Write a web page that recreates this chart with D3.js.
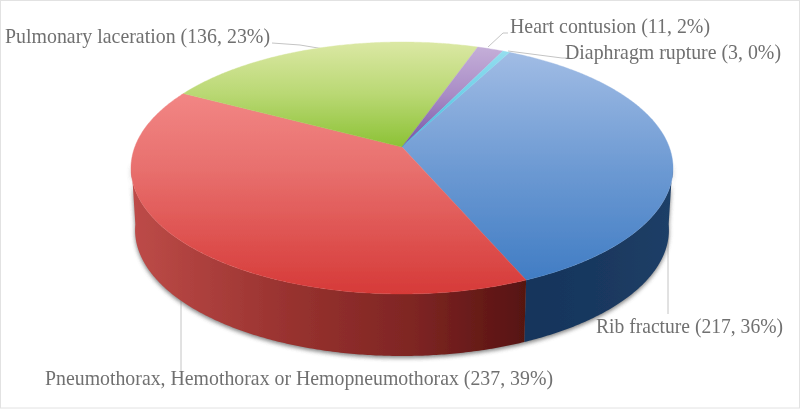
<!DOCTYPE html>
<html>
<head>
<meta charset="utf-8">
<script src="https://cdn.jsdelivr.net/npm/d3@7"></script>
<style>
html, body { margin: 0; padding: 0; background: #fff; }
svg { display: block; }
</style>
</head>
<body>
<script>
// data, clockwise starting from the rib fracture slice
const categories = ["Rib fracture", "Pneumothorax, Hemothorax or Hemopneumothorax", "Pulmonary laceration", "Heart contusion", "Diaphragm rupture"];
const counts = [217, 237, 136, 11, 3];

const keys = ["rib", "pneumo", "pulmonary", "heart", "diaphragm"];
const topColors = {
    rib: ["#a5bfe6", "#6d9ad3", "#3b79c2"],
    pneumo: ["#f99594", "#e8706e", "#d63a38"],
    pulmonary: ["#dbe8a4", "#b9d873", "#8cc236"],
    heart: ["#c7b2da", "#a98cc6", "#7453a6"],
    diaphragm: ["#9ce0f0", "#70d0e8", "#3fb4d8"]
};
const gradEnd = { rib: 294, pneumo: 294, pulmonary: 147, heart: 147, diaphragm: 147 };

const width = 800, height = 409;
const rad = Math.PI / 180;
const startDeg = 27.5;   // where the first slice starts, from 12 o'clock
const depth = 62;

// tilted disc: the far side is squeezed, so the pie centre sits above the ellipse centre
const k = 1 / 6;
const x = d3.scaleLinear().domain([-1, 1]).range([402 - 267.2, 402 + 267.2]);
const y = d3.scaleLinear().domain([-1, 1]).range([147 - 122.5, 147 + 122.5]);

function project(angle) {
    let X = Math.sin(angle), Y = -Math.cos(angle);
    let w = 1 - k * Y;
    return [x(X / w), y(Y / w)];
}
function lower(angle) {
    let p = project(angle);
    return [402 + (p[0] - 402) * 0.985, p[1] + depth];
}

const total = d3.sum(counts);
const rows = categories.map((c, i) => ({ name: c, value: counts[i], key: keys[i] }));
const pie = d3.pie().value(d => d.value).sort(null)
    .startAngle(startDeg * rad).endAngle((startDeg + 360) * rad);
const arcs = pie(rows);

const line = d3.line();
function steps(a0, a1) {
    let n = Math.max(2, Math.ceil(Math.abs(a1 - a0) / (0.5 * rad)));
    return d3.range(n + 1).map(i => a0 + (a1 - a0) * i / n);
}

let svg = d3.select("body").append("svg")
    .attr("width", width)
    .attr("height", height);

let defs = svg.append("defs");
defs.append("filter").attr("id", "soft")
    .attr("x", "-5%").attr("y", "-5%").attr("width", "110%").attr("height", "110%")
    .append("feGaussianBlur").attr("stdDeviation", 2);
// the reference is a slightly soft scan, so everything gets a touch of blur
defs.append("filter").attr("id", "tiny")
    .attr("filterUnits", "userSpaceOnUse")
    .attr("x", 0).attr("y", 0).attr("width", width).attr("height", height)
    .append("feGaussianBlur").attr("stdDeviation", 0.45);

for (let key of keys) {
    let g = defs.append("linearGradient").attr("id", "top-" + key)
        .attr("gradientUnits", "userSpaceOnUse")
        .attr("x1", 0).attr("x2", 0).attr("y1", 42).attr("y2", gradEnd[key]);
    topColors[key].forEach((c, i) => g.append("stop").attr("offset", i / 2).attr("stop-color", c));
}
let wallRed = defs.append("linearGradient").attr("id", "wall-pneumo")
    .attr("gradientUnits", "userSpaceOnUse")
    .attr("x1", 133).attr("x2", 524).attr("y1", 0).attr("y2", 0);
[[0, "#bd4b48"], [0.4, "#98322f"], [0.72, "#7e2523"], [1, "#571311"]]
    .forEach(s => wallRed.append("stop").attr("offset", s[0]).attr("stop-color", s[1]));
let wallBlue = defs.append("linearGradient").attr("id", "wall-rib")
    .attr("gradientUnits", "userSpaceOnUse")
    .attr("x1", 524).attr("x2", 670).attr("y1", 0).attr("y2", 0);
[[0, "#15345b"], [0.6, "#1a3960"], [1, "#1f3f67"]]
    .forEach(s => wallBlue.append("stop").attr("offset", s[0]).attr("stop-color", s[1]));

// frame
svg.append("rect")
    .attr("x", 0.5).attr("y", 0.5)
    .attr("width", width - 1).attr("height", height - 1.5)
    .attr("fill", "#fff").attr("stroke", "#e2e2e2");

let chart = svg.append("g").attr("filter", "url(#tiny)");

// leader lines sit behind the pie
const leaders = [
    [[272, 43], [300, 45], [330, 50]],
    [[488, 47], [503, 33], [508, 33]],
    [[508, 51], [562, 58], [570, 58]],
    [[668, 200], [668, 314]],
    [[181, 290], [181, 372]]
];
chart.append("g").selectAll("path").data(leaders).join("path")
    .attr("d", d => line(d))
    .attr("fill", "none")
    .attr("stroke", "#c4c4c4")
    .attr("stroke-width", 1);

// side wall runs from the right extreme round the front to the left extreme
const boundary = arcs[0].endAngle;
const wallSpans = [
    { key: "rib", a0: 97 * rad, a1: boundary },
    { key: "pneumo", a0: boundary, a1: 263 * rad }
];
function wallPath(a0, a1) {
    let as = steps(a0, a1);
    return line(as.map(project).concat(as.slice().reverse().map(lower))) + "Z";
}

chart.append("path")
    .attr("d", wallPath(97 * rad, 263 * rad))
    .attr("transform", "translate(0,2)")
    .attr("fill", "#555")
    .attr("opacity", 0.75)
    .attr("filter", "url(#soft)");

chart.append("g").selectAll("path").data(wallSpans).join("path")
    .attr("d", d => wallPath(d.a0, d.a1))
    .attr("fill", d => "url(#wall-" + d.key + ")");

// top surface
chart.append("g").selectAll("path").data(arcs).join("path")
    .attr("d", d => line([[x(0), y(0)]].concat(steps(d.startAngle, d.endAngle).map(project))) + "Z")
    .attr("fill", d => "url(#top-" + d.data.key + ")")
    .attr("stroke", d => "url(#top-" + d.data.key + ")")
    .attr("stroke-width", 0.4);

// labels
const labelPos = {
    rib: [596, 333, 187],
    pneumo: [45, 385, 508],
    pulmonary: [5, 43, 265],
    heart: [510, 33, 200],
    diaphragm: [565, 59, 216]
};
chart.append("g").selectAll("text").data(arcs).join("text")
    .attr("x", d => labelPos[d.data.key][0])
    .attr("y", d => labelPos[d.data.key][1])
    .attr("textLength", d => labelPos[d.data.key][2])
    .attr("lengthAdjust", "spacingAndGlyphs")
    .attr("font-family", "'Liberation Serif', serif")
    .attr("font-size", 21)
    .attr("fill", "#707070")
    .text(d => d.data.name + " (" + d.data.value + ", " + Math.round(d.data.value / total * 100) + "%)");
</script>
</body>
</html>
